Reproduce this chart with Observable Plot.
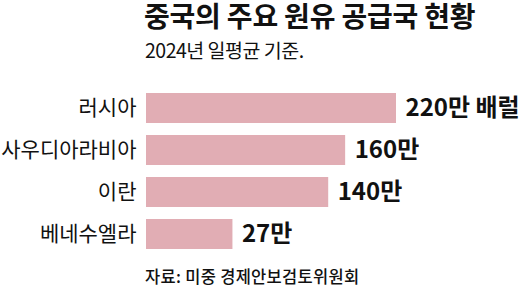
<!DOCTYPE html>
<html><head><meta charset="utf-8">
<script src="https://cdn.jsdelivr.net/npm/d3@7"></script>
<script src="https://cdn.jsdelivr.net/npm/@observablehq/plot@0.6"></script>
<style>
html,body{margin:0;padding:0;background:#fff}
body{font-family:"Noto Sans CJK KR","Noto Sans",sans-serif;color:#111;width:530px;height:288px;position:relative}
.t{position:absolute;white-space:nowrap;line-height:1}
#title{left:144px;top:1px;font-size:28px;font-weight:700;letter-spacing:-0.2px}
#subtitle{left:145px;top:40px;font-size:19.5px;font-weight:400;letter-spacing:-0.5px}
#caption{left:145px;top:268px;font-size:16.5px;font-weight:500;letter-spacing:0.3px}
#chart{position:absolute;left:0;top:72px}
</style>
</head><body>
<div class="t" id="title"></div>
<div class="t" id="subtitle"></div>
<div id="chart"></div>
<div class="t" id="caption"></div>
<script>
const titleText = "중국의 주요 원유 공급국 현황";
const subtitleText = "2024년 일평균 기준.";
const captionText = "자료: 미중 경제안보검토위원회";
const countries = ["러시아", "사우디아라비아", "이란", "베네수엘라"];
const values = [220, 160, 140, 27]; // 만 배럴 / 일
const valueLabels = ["220만 배럴", "160만", "140만", "27만"];
const xDomain = [-75, 220];

document.getElementById("title").textContent = titleText;
document.getElementById("subtitle").textContent = subtitleText;
document.getElementById("caption").textContent = captionText;

const data = countries.map((c, i) => ({country: c, value: values[i], label: valueLabels[i]}));

const chart = Plot.plot({
  width: 530,
  height: 191,
  marginTop: 7,
  marginBottom: 0,
  marginLeft: 146,
  marginRight: 0,
  style: {fontFamily: '"Noto Sans CJK KR", sans-serif', color: "#111", background: "#fff"},
  x: {domain: xDomain, range: [146, 396], axis: null},
  y: {domain: countries, padding: 0.28, label: null, tickSize: 0, tickPadding: 10},
  marks: [
    Plot.barX(data, {y: "country", x1: xDomain[0], x2: "value", fill: "#e1adb4"}),
    Plot.axisY({tickSize: 0, tickPadding: 10, fontSize: 21, label: null, fill: "#111"}),
    Plot.text(data, {y: "country", x: "value", text: "label", dx: 9, dy: 0, textAnchor: "start",
      fontSize: 24, fontWeight: 700, fill: "#111", style: "letter-spacing:-1px"})
  ]
});
document.getElementById("chart").appendChild(chart);
</script>
</body></html>
